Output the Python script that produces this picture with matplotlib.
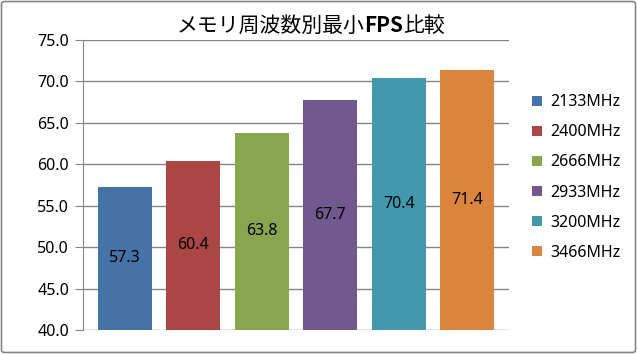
import matplotlib
matplotlib.use("Agg")
import matplotlib.pyplot as plt
from matplotlib.patches import FancyBboxPatch, Patch

plt.rcParams['font.family'] = ['Noto Sans', 'Noto Sans CJK JP', 'DejaVu Sans']

title_parts = ["メモリ周波数別最小", "FPS", "比較"]
series = ["2133MHz", "2400MHz", "2666MHz", "2933MHz", "3200MHz", "3466MHz"]
values = [57.3, 60.4, 63.8, 67.7, 70.4, 71.4]
colors = ["#4572A7", "#AA4643", "#89A54E", "#71588F", "#4198AF", "#DB843D"]
yticks = [40, 45, 50, 55, 60, 65, 70, 75]

W, H = 637, 354
fig = plt.figure(figsize=(W / 100, H / 100), dpi=100)
fig.patches.append(FancyBboxPatch((1.5 / W, 1.5 / H), (W - 3) / W, (H - 3) / H,
                                  boxstyle="round,pad=0,rounding_size=0.006",
                                  transform=fig.transFigure, fill=False,
                                  edgecolor="#868686", linewidth=1.2))

ax = fig.add_axes([83 / W, 1 - 330 / H, (509 - 83) / W, (330 - 40) / H])
bottom = yticks[0]
for i, (s, v, c) in enumerate(zip(series, values, colors)):
    ax.bar(i, v - bottom, bottom=bottom, width=0.79, color=c, label=s, zorder=3)
    ax.text(i, bottom + (v - bottom) / 2, f"{v:.1f}", ha="center", va="center",
            fontsize=11.5, color="black", zorder=4)

ax.set_xlim(-0.61, 5.61)
ax.set_ylim(yticks[0], yticks[-1])
ax.set_yticks(yticks)
ax.set_yticklabels([f"{t:.1f}" for t in yticks], fontsize=11.5)
ax.set_xticks([])
ax.grid(axis="y", color="#868686", linewidth=1, zorder=0)
for sp in ["top", "right", "bottom"]:
    ax.spines[sp].set_visible(False)
ax.spines["left"].set_color("#868686")
ax.tick_params(axis="y", length=6, color="#868686", pad=4)

handles = [Patch(facecolor=c, label=s) for s, c in zip(series, colors)]
fig.legend(handles=handles, loc="upper left", bbox_to_anchor=(526 / W, 1 - 88 / H),
           frameon=False, fontsize=11.5, handlelength=0.6, handleheight=0.6,
           handletextpad=0.5, labelspacing=0.88, borderaxespad=0)

# title with bold "FPS"
fig.canvas.draw()
r = fig.canvas.get_renderer()
ty = 1 - 26 / H
weights = ["normal", "bold", "normal"]
texts = [fig.text(0, ty, p, ha="left", va="center", fontsize=15, fontweight=w,
                  family=['Noto Sans CJK JP', 'DejaVu Sans'])
         for p, w in zip(title_parts, weights)]
widths = [t.get_window_extent(r).width for t in texts]
x = 311 - sum(widths) / 2
for t, w in zip(texts, widths):
    t.set_x(x / W)
    x += w

fig.savefig("out.png", dpi=100, facecolor="white")
